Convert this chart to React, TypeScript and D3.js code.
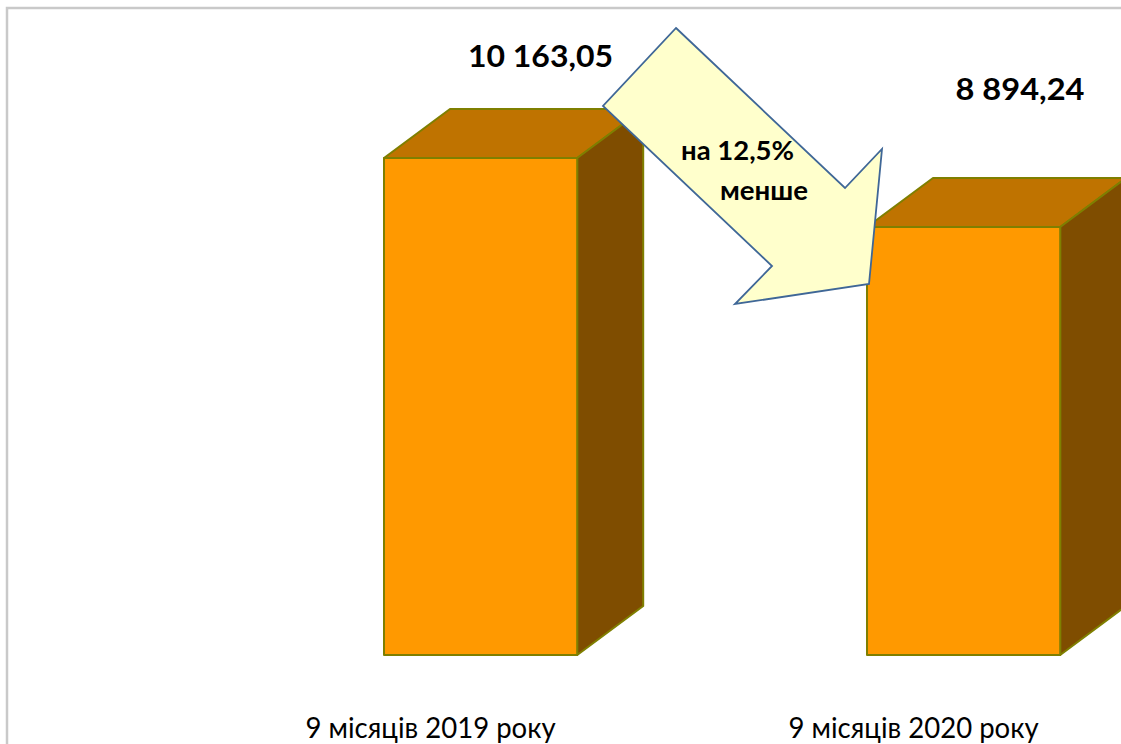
import * as d3 from "d3";

const categories = ["9 місяців 2019 року", "9 місяців 2020 року"];
const values = [10163.05, 8894.24];
const valueLabels = ["10 163,05", "8 894,24"];
const arrowLines = ["на 12,5%", "менше"];

const W = 1121;
const H = 744;
const depthX = 66;
const depthY = 49;
const font = "Lato, Carlito, sans-serif";

const x = d3.scaleBand<string>().domain(categories).range([239.1, 1205.1]).paddingInner(0.6).paddingOuter(0.3);
// axis does not start at zero in the original, floor is about 1024
const y = d3.scaleLinear().domain([1024, 10163.05]).range([655, 158]);

const line = d3.line();

// callout arrow, drawn by hand over the chart in the original
const arrow: [number, number][] = [
  [676, 28],
  [845, 188],
  [882, 149],
  [869, 284],
  [735, 304],
  [772, 266],
  [603, 106],
];

export default function App() {
  return (
    <svg width={W} height={H} style={{ position: "absolute", left: 0, top: 0, background: "#fff" }}>
      <path d={`M7 ${H}V8H${W}`} fill="none" stroke="#c9c9c9" strokeWidth={2.5} />
      {categories.map((c, i) => {
        const x0 = x(c)!;
        const x1 = x0 + x.bandwidth();
        const top = y(values[i]);
        const bottom = y.range()[0];
        const front = line([[x0, top], [x1, top], [x1, bottom], [x0, bottom]]) + "Z";
        const lid = line([[x0, top], [x0 + depthX, top - depthY], [x1 + depthX, top - depthY], [x1, top]]) + "Z";
        const side = line([[x1, top], [x1 + depthX, top - depthY], [x1 + depthX, bottom - depthY], [x1, bottom]]) + "Z";
        return (
          <g key={c} stroke="#7f7f00" strokeWidth={2} strokeLinejoin="round">
            <path d={lid} fill="#bf7300" />
            <path d={side} fill="#7f4d00" />
            <path d={front} fill="#ff9900" />
          </g>
        );
      })}
      <path d={line(arrow) + "Z"} fill="#ffffcc" stroke="#3f6797" strokeWidth={1.8} strokeLinejoin="miter" />
      <g fontFamily={font} fill="#000">
        <text x={540.5} y={67} textAnchor="middle" fontSize={31} fontWeight={700} textLength={145} lengthAdjust="spacingAndGlyphs">
          {valueLabels[0]}
        </text>
        <text x={1020} y={100} textAnchor="middle" fontSize={31} fontWeight={700} textLength={129} lengthAdjust="spacingAndGlyphs">
          {valueLabels[1]}
        </text>
        <text x={737.5} y={160} textAnchor="middle" fontSize={26} fontWeight={700} textLength={113} lengthAdjust="spacingAndGlyphs">
          {arrowLines[0]}
        </text>
        <text x={764} y={200} textAnchor="middle" fontSize={26} fontWeight={700} textLength={88} lengthAdjust="spacingAndGlyphs">
          {arrowLines[1]}
        </text>
        {categories.map((c) => (
          <text key={c} x={x(c)! + x.bandwidth() / 2 - 50} y={738} textAnchor="middle" fontSize={29} textLength={250} lengthAdjust="spacingAndGlyphs">
            {c}
          </text>
        ))}
      </g>
    </svg>
  );
}
